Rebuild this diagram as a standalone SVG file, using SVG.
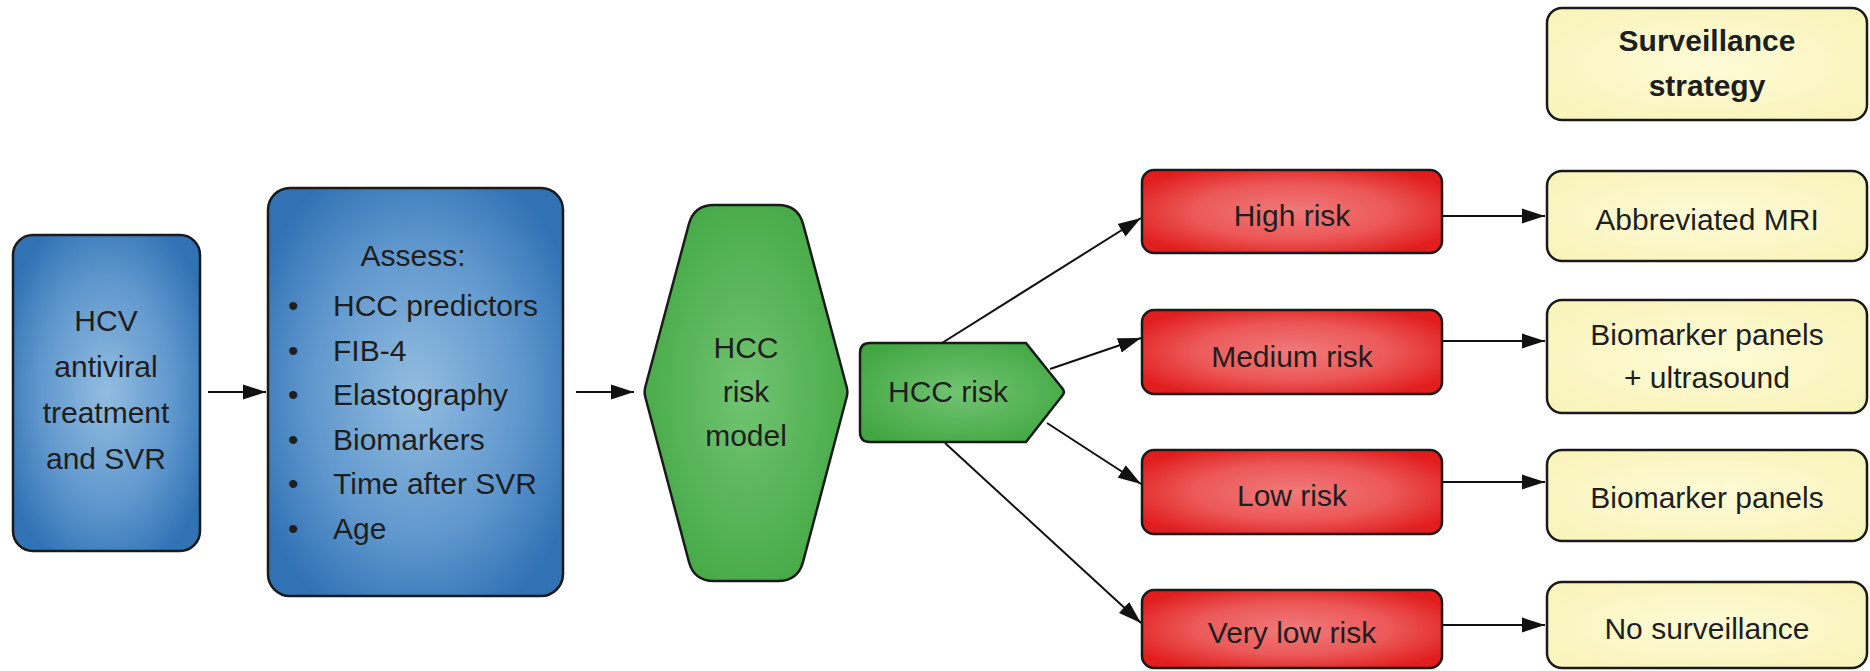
<svg xmlns="http://www.w3.org/2000/svg" width="1870" height="671" viewBox="0 0 1870 671">
<defs>
<radialGradient id="gBlue" cx="50%" cy="50%" r="60%">
<stop offset="0" stop-color="#93bde0"/>
<stop offset="0.6" stop-color="#5f97cd"/>
<stop offset="1" stop-color="#3172b5"/>
</radialGradient>
<radialGradient id="gGreen" cx="50%" cy="50%" r="60%">
<stop offset="0" stop-color="#72c472"/>
<stop offset="1" stop-color="#42a742"/>
</radialGradient>
<radialGradient id="gRed" cx="50%" cy="50%" r="60%">
<stop offset="0" stop-color="#f07a7a"/>
<stop offset="0.55" stop-color="#ec5858"/>
<stop offset="1" stop-color="#e11d1d"/>
</radialGradient>
<radialGradient id="gYellow" cx="50%" cy="50%" r="60%">
<stop offset="0" stop-color="#fdfbd6"/>
<stop offset="1" stop-color="#f9f4bc"/>
</radialGradient>
<marker id="arr" markerUnits="userSpaceOnUse" markerWidth="24" markerHeight="16" refX="23" refY="8" orient="auto">
<path d="M0,0.5 L23,8 L0,15.5 Z" fill="#111"/>
</marker>
</defs>
<style>
.box{stroke:#1a1a1a;stroke-width:2.5}
.blue{fill:url(#gBlue)}
.green{fill:url(#gGreen)}
.red{fill:url(#gRed)}
.yellow{fill:url(#gYellow)}
text{font-family:"Liberation Sans",Arial,sans-serif;font-size:30px;fill:#1e1e1e}
.c{text-anchor:middle}
.b{font-weight:bold;font-size:30px}
.conn line{stroke:#111;stroke-width:2;marker-end:url(#arr)}
</style>

<g id="node-hcv">
<rect class="box blue" x="13" y="235" width="187" height="316" rx="20"/>
<text class="c" x="106" y="331">HCV</text>
<text class="c" x="106" y="377">antiviral</text>
<text class="c" x="106" y="423">treatment</text>
<text class="c" x="106" y="469">and SVR</text>
</g>

<g id="node-assess">
<rect class="box blue" x="268" y="188" width="295" height="408" rx="22"/>
<text class="c" x="413" y="266">Assess:</text>
<text x="288" y="316">•</text><text x="333" y="316">HCC predictors</text>
<text x="288" y="360.5">•</text><text x="333" y="360.5">FIB-4</text>
<text x="288" y="405">•</text><text x="333" y="405">Elastography</text>
<text x="288" y="449.5">•</text><text x="333" y="449.5">Biomarkers</text>
<text x="288" y="494">•</text><text x="333" y="494">Time after SVR</text>
<text x="288" y="538.5">•</text><text x="333" y="538.5">Age</text>
</g>

<g id="node-model">
<path class="box green" d="M714,205 L778,205 Q798,205 803.2,224.3 L846.7,387 Q848,392 846.7,397 L803.1,561.7 Q798,581 778,581 L714,581 Q694,581 688.9,561.7 L645.3,397 Q644,392 645.3,387 L688.8,224.3 Q694,205 714,205 Z"/>
<text class="c" x="746" y="358">HCC</text>
<text class="c" x="746" y="402">risk</text>
<text class="c" x="746" y="446">model</text>
</g>

<g id="node-risk">
<path class="box green" d="M870,343 L1026,343 L1062,388 Q1066,392 1062,396 L1026,442 L870,442 Q860,442 860,432 L860,353 Q860,343 870,343 Z"/>
<text class="c" x="948" y="402">HCC risk</text>
</g>

<g id="node-high">
<rect class="box red" x="1142" y="170" width="300" height="83" rx="12"/>
<text class="c" x="1292" y="226">High risk</text>
</g>
<g id="node-medium">
<rect class="box red" x="1142" y="310" width="300" height="84" rx="12"/>
<text class="c" x="1292" y="367">Medium risk</text>
</g>
<g id="node-low">
<rect class="box red" x="1142" y="450" width="300" height="84" rx="12"/>
<text class="c" x="1292" y="506">Low risk</text>
</g>
<g id="node-verylow">
<rect class="box red" x="1142" y="590" width="300" height="78" rx="12"/>
<text class="c" x="1292" y="643">Very low risk</text>
</g>

<g id="node-strategy">
<rect class="box yellow" x="1547" y="8" width="320" height="112" rx="15"/>
<text class="c b" x="1707" y="51">Surveillance</text>
<text class="c b" x="1707" y="96">strategy</text>
</g>
<g id="node-mri">
<rect class="box yellow" x="1547" y="171" width="320" height="90" rx="15"/>
<text class="c" x="1707" y="230">Abbreviated MRI</text>
</g>
<g id="node-bio-us">
<rect class="box yellow" x="1547" y="300" width="320" height="113" rx="15"/>
<text class="c" x="1707" y="345">Biomarker panels</text>
<text class="c" x="1707" y="388">+ ultrasound</text>
</g>
<g id="node-bio">
<rect class="box yellow" x="1547" y="450" width="320" height="91" rx="15"/>
<text class="c" x="1707" y="508">Biomarker panels</text>
</g>
<g id="node-none">
<rect class="box yellow" x="1547" y="582" width="320" height="86" rx="15"/>
<text class="c" x="1707" y="639">No surveillance</text>
</g>

<g id="connectors" class="conn">
<line x1="208" y1="392" x2="266" y2="392"/>
<line x1="576" y1="392" x2="634" y2="392"/>
<line x1="942" y1="343" x2="1141" y2="218"/>
<line x1="1050" y1="369" x2="1141" y2="338"/>
<line x1="1047" y1="423" x2="1141" y2="484"/>
<line x1="945" y1="443" x2="1141" y2="623"/>
<line x1="1442" y1="216" x2="1545" y2="216"/>
<line x1="1442" y1="341" x2="1545" y2="341"/>
<line x1="1442" y1="482" x2="1545" y2="482"/>
<line x1="1442" y1="625" x2="1545" y2="625"/>
</g>
</svg>
